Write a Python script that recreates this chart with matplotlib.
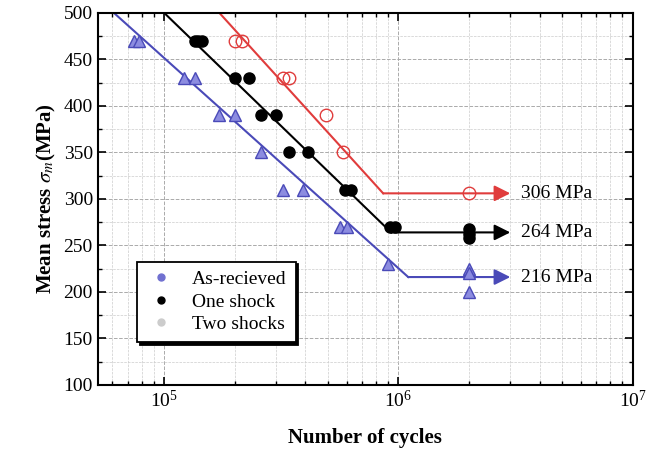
import matplotlib.pyplot as plt
from matplotlib.ticker import LogLocator, MultipleLocator, NullFormatter

plt.rcParams['font.family'] = ['Liberation Serif', 'DejaVu Serif']
plt.rcParams['mathtext.fontset'] = 'stix'

# As-received data (cycles, mean stress)
ar_n = [7.4e4, 7.8e4, 1.22e5, 1.35e5, 1.72e5, 2.0e5, 2.6e5, 3.2e5, 3.9e5, 5.6e5, 6.0e5, 9.0e5,
        2e6, 2e6, 2e6]
ar_s = [470, 470, 430, 430, 390, 390, 350, 310, 310, 270, 270, 230, 225, 220, 200]

# One shock
os_n = [1.35e5, 1.40e5, 1.45e5, 2.0e5, 2.3e5, 2.6e5, 3.0e5, 3.4e5, 4.1e5, 5.9e5, 6.3e5, 9.2e5, 9.7e5,
        2e6, 2e6, 2e6]
os_s = [470, 470, 470, 430, 430, 390, 390, 350, 350, 310, 310, 270, 270, 268, 262, 258]

# Two shocks
ts_n = [2.0e5, 2.15e5, 3.2e5, 3.4e5, 4.9e5, 5.8e5, 2e6]
ts_s = [470, 470, 430, 430, 390, 350, 306]

# fitted S-N lines: start, knee, end
ar_line_n = [6.1e4, 1.1e6, 3.0e6]
ar_line_s = [500, 216, 216]
os_line_n = [1.0e5, 9.3e5, 3.0e6]
os_line_s = [500, 264, 264]
ts_line_n = [1.72e5, 8.6e5, 3.0e6]
ts_line_s = [500, 306, 306]

limits = ['306 MPa', '264 MPa', '216 MPa']

blue = '#4a4ab8'
red = '#e03c3c'

fig = plt.figure(figsize=(6.47, 4.61), dpi=100)
ax = fig.add_axes([0.151, 0.165, 0.827, 0.807])

for ln, ls, c in [(ar_line_n, ar_line_s, blue), (os_line_n, os_line_s, 'k'), (ts_line_n, ts_line_s, red)]:
    ax.plot(ln[:2], ls[:2], '-', color=c, lw=1.5, zorder=2)
    ax.annotate('', xy=(ln[2], ls[2]), xytext=(ln[1], ls[1]),
                arrowprops=dict(arrowstyle='-|>', color=c, lw=1.5, mutation_scale=24,
                                shrinkA=0, shrinkB=0), zorder=2)

ax.plot(ar_n, ar_s, '^', color=blue, ms=8, mfc='#8c8ce0', mec=blue, ls='none', zorder=3)
ax.plot(os_n, os_s, 'o', color='k', ms=8, ls='none', zorder=3)
ax.plot(ts_n, ts_s, 'o', mfc='none', mec=red, ms=9, ls='none', zorder=3)

for lab, ls in zip(limits, [ts_line_s, os_line_s, ar_line_s]):
    ax.text(3.35e6, ls[2], lab, va='center', ha='left', fontsize=14)

# legend handles
h1, = ax.plot([], [], 'o', color='#7070d0', ms=5)
h2, = ax.plot([], [], 'o', color='k', ms=5)
h3, = ax.plot([], [], 'o', color='#cccccc', ms=5)
leg = ax.legend([h1, h2, h3], ['As-recieved', 'One shock', 'Two shocks'],
                loc='lower left', bbox_to_anchor=(0.055, 0.09), fontsize=14,
                shadow={'color': 'k', 'alpha': 1},
                fancybox=False, edgecolor='k', framealpha=1, handletextpad=0.8,
                handlelength=1.6, borderpad=0.45, labelspacing=0.25)
leg.get_frame().set_linewidth(1.3)

ax.set_xscale('log')
ax.set_xlim(5.2e4, 1e7)
ax.set_ylim(100, 500)
ax.yaxis.set_major_locator(MultipleLocator(50))
ax.yaxis.set_minor_locator(MultipleLocator(25))
ax.xaxis.set_major_locator(LogLocator(base=10, numticks=10))
ax.xaxis.set_minor_locator(LogLocator(base=10, subs=range(2, 10), numticks=20))
ax.xaxis.set_minor_formatter(NullFormatter())

ax.grid(True, which='major', ls='--', color='#aaaaaa', lw=0.7)
ax.grid(True, which='minor', ls='--', color='#cccccc', lw=0.5)
ax.set_axisbelow(True)

ax.tick_params(which='both', direction='in', top=True, right=True, labelsize=14)
ax.tick_params(which='major', length=6, width=1.2)
ax.tick_params(which='minor', length=3, width=1)
for sp in ax.spines.values():
    sp.set_linewidth(1.5)

ax.set_xlabel('Number of cycles', fontsize=15, fontweight='bold', labelpad=12)
ax.set_ylabel(r'Mean stress $\sigma_m$(MPa)', fontsize=15, fontweight='bold', labelpad=4)

fig.savefig('out.png', dpi=100)
